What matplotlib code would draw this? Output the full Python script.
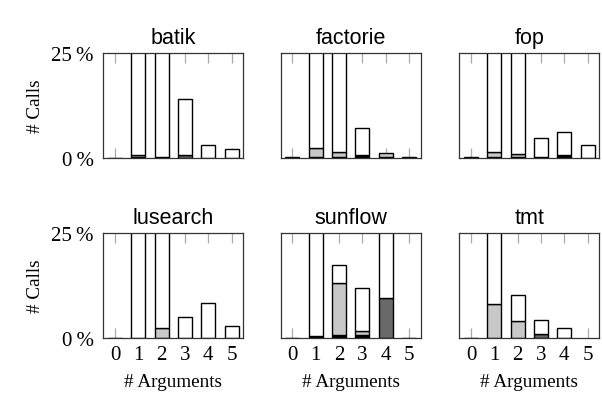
import numpy as np
import matplotlib
matplotlib.use("Agg")
import matplotlib.pyplot as plt

# Share of calls (%) by number of arguments, split into four stacked groups
benchmarks = ["batik", "factorie", "fop", "lusearch", "sunflow", "tmt"]
n_args = [0, 1, 2, 3, 4, 5]

black_part = {
    "batik":    [0.10, 0.15, 0.30, 0.00, 0.05, 0.05],
    "factorie": [0.15, 0.20, 0.20, 0.60, 0.20, 0.20],
    "fop":      [0.15, 0.30, 0.30, 0.15, 0.60, 0.10],
    "lusearch": [0.10, 0.05, 0.05, 0.00, 0.00, 0.00],
    "sunflow":  [0.10, 0.40, 0.60, 0.70, 0.00, 0.10],
    "tmt":      [0.10, 0.00, 0.00, 0.00, 0.00, 0.00],
}
dark_part = {
    "batik":    [0.0, 0.0, 0.0, 0.8, 0.0, 0.0],
    "factorie": [0.0, 0.0, 0.0, 0.0, 0.0, 0.0],
    "fop":      [0.0, 0.0, 0.0, 0.0, 0.0, 0.0],
    "lusearch": [0.0, 0.0, 0.0, 0.0, 0.0, 0.0],
    "sunflow":  [0.0, 0.0, 0.0, 0.0, 9.6, 0.0],
    "tmt":      [0.0, 0.0, 0.0, 0.9, 0.0, 0.0],
}
light_part = {
    "batik":    [0.0, 0.5, 0.0, 0.0, 0.0, 0.0],
    "factorie": [0.0, 2.2, 1.2, 0.0, 1.1, 0.0],
    "fop":      [0.0, 1.2, 0.7, 0.0, 0.0, 0.0],
    "lusearch": [0.0, 0.0, 2.3, 0.0, 0.0, 0.0],
    "sunflow":  [0.0, 0.0, 12.4, 0.9, 0.0, 0.0],
    "tmt":      [0.0, 8.1, 4.1, 0.0, 0.0, 0.0],
}
white_part = {
    "batik":    [0.0, 40.0, 40.0, 13.3, 3.05, 2.05],
    "factorie": [0.0, 40.0, 40.0, 6.5, 0.0, 0.0],
    "fop":      [0.0, 40.0, 40.0, 4.65, 5.6, 2.9],
    "lusearch": [0.0, 40.0, 40.0, 4.9, 8.3, 2.8],
    "sunflow":  [0.0, 40.0, 4.4, 10.3, 40.0, 0.0],
    "tmt":      [0.0, 40.0, 6.2, 3.5, 2.3, 0.0],
}

layers = [
    (black_part, "black"),
    (dark_part, "#686868"),
    (light_part, "#c8c8c8"),
    (white_part, "white"),
]

serif = ["Liberation Serif", "DejaVu Serif"]
sans = ["Liberation Sans", "DejaVu Sans"]

fig = plt.figure(figsize=(6.02, 4.02), dpi=100)

lefts = [103.3, 280.8, 459.3]
rows_bottom = [159.0, 339.0]
ax_w, ax_h = 140.0, 105.0
W, H = 602.0, 402.0

for i, name in enumerate(benchmarks):
    r, c = divmod(i, 3)
    ax = fig.add_axes([lefts[c] / W, 1 - rows_bottom[r] / H, ax_w / W, ax_h / H])
    x = np.array(n_args, dtype=float)
    bottom = np.zeros(len(n_args))
    for part, color in layers:
        vals = np.array(part[name], dtype=float)
        mask = vals > 0
        ax.bar(x[mask], vals[mask], bottom=bottom[mask], width=0.6,
               color=color, edgecolor="black", linewidth=1.0, zorder=2)
        bottom += vals
    ax.set_xlim(-0.5, 5.5)
    ax.set_ylim(0, 25)
    ax.set_xticks(n_args)
    ax.set_yticks([0, 25])
    for s in ax.spines.values():
        s.set_color("#333333")
        s.set_linewidth(0.9)
        s.set_zorder(3)
    ax.tick_params(axis="x", direction="in", length=7, width=0.9, color="#aaaaaa",
                   top=True, bottom=True, pad=5)
    ax.tick_params(axis="y", direction="in", length=0, pad=7)
    ax.set_title(name, fontsize=15.5, family=sans, pad=7)
    if c == 0:
        ax.set_yticklabels(["0\u2009%", "25\u2009%"], family=serif, fontsize=15)
        ax.set_ylabel("# Calls", family=serif, fontsize=13.8)
        ax.yaxis.label.set_va("center")
        ax.yaxis.set_label_coords((35 - lefts[0]) / ax_w, 0.5)
    else:
        ax.set_yticklabels([])
    if r == 1:
        ax.set_xticklabels([str(v) for v in n_args], family=serif, fontsize=15)
        ax.set_xlabel("# Arguments", family=serif, fontsize=13.8)
        ax.xaxis.label.set_va("center")
        ax.xaxis.set_label_coords(0.5, -(383 - 339) / ax_h)
    else:
        ax.set_xticklabels([])

fig.savefig("out.png", dpi=100)
